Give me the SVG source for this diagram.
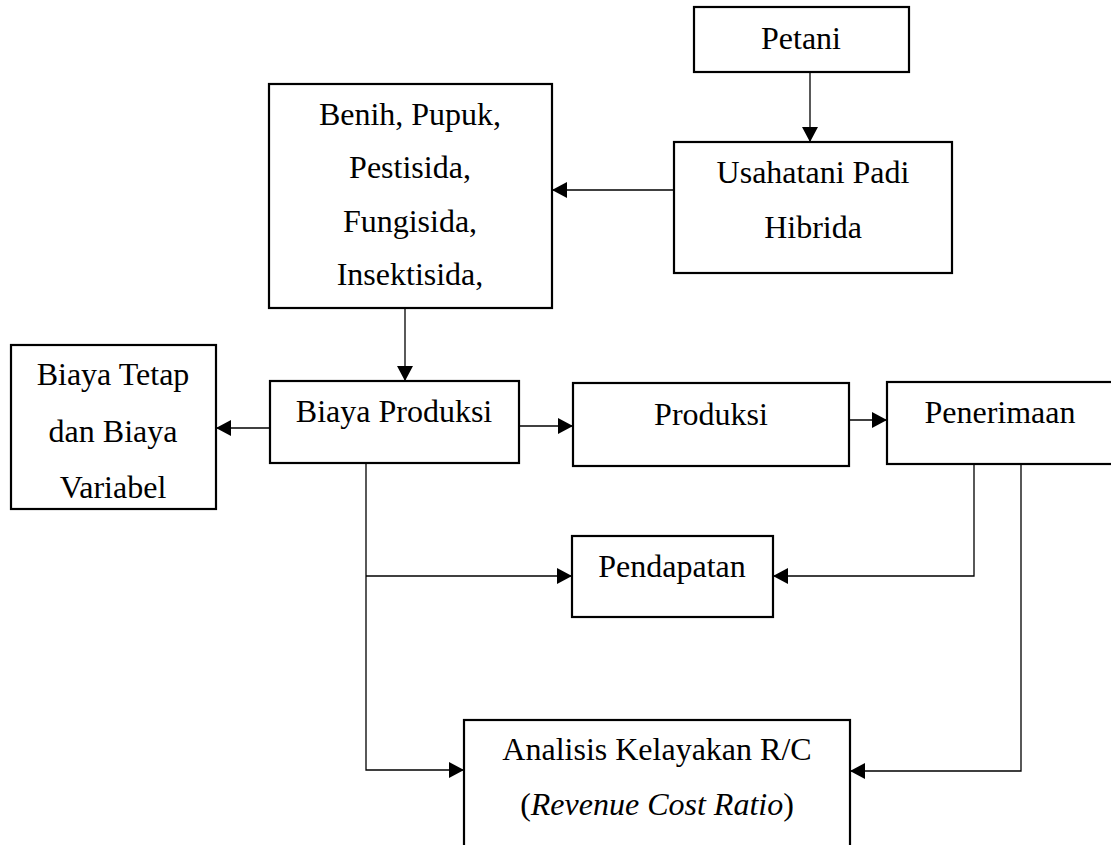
<svg xmlns="http://www.w3.org/2000/svg" width="1111" height="845" viewBox="0 0 1111 845">
<style>
.box{fill:#fff;stroke:#000;stroke-width:2.2}
.t{font-family:"Liberation Serif","Times New Roman",serif;font-size:32px;fill:#000;text-anchor:middle}
.c{fill:none;stroke:#000;stroke-width:1.3}
</style>
<defs>
<marker id="ah" markerUnits="userSpaceOnUse" markerWidth="16" markerHeight="16" refX="15" refY="8" orient="auto">
<path d="M0,0 L15,8 L0,16 Z" fill="#000"/>
</marker>
</defs>
<rect width="1111" height="845" fill="#fff"/>
<g id="connectors">
<path class="c" d="M810,72 L810,142" marker-end="url(#ah)"/>
<path class="c" d="M674,190 L552,190" marker-end="url(#ah)"/>
<path class="c" d="M405,309 L405,381" marker-end="url(#ah)"/>
<path class="c" d="M270,428 L216,428" marker-end="url(#ah)"/>
<path class="c" d="M519,426 L573,426" marker-end="url(#ah)"/>
<path class="c" d="M849,420 L887,420" marker-end="url(#ah)"/>
<path class="c" d="M974,464 L974,576 L773,576" marker-end="url(#ah)"/>
<path class="c" d="M1021,464 L1021,771 L850,771" marker-end="url(#ah)"/>
<path class="c" d="M366,463 L366,770 L464,770" marker-end="url(#ah)"/>
<path class="c" d="M366,576 L572,576" marker-end="url(#ah)"/>
</g>
<g id="petani">
<rect class="box" x="694" y="7" width="215" height="65"/>
<text class="t" x="801" y="49">Petani</text>
</g>
<g id="usahatani">
<rect class="box" x="674" y="142" width="278" height="131"/>
<text class="t" x="813" y="183">Usahatani Padi</text>
<text class="t" x="813" y="238">Hibrida</text>
</g>
<g id="input">
<rect class="box" x="269" y="84" width="283" height="224"/>
<text class="t" x="410" y="125">Benih, Pupuk,</text>
<text class="t" x="410" y="178">Pestisida,</text>
<text class="t" x="410" y="232">Fungisida,</text>
<text class="t" x="410" y="285">Insektisida,</text>
</g>
<g id="biaya-tetap">
<rect class="box" x="11" y="345" width="205" height="164"/>
<text class="t" x="113" y="385">Biaya Tetap</text>
<text class="t" x="113" y="442">dan Biaya</text>
<text class="t" x="113" y="498">Variabel</text>
</g>
<g id="biaya-produksi">
<rect class="box" x="270" y="381" width="249" height="82"/>
<text class="t" x="394" y="422">Biaya Produksi</text>
</g>
<g id="produksi">
<rect class="box" x="573" y="383" width="276" height="83"/>
<text class="t" x="711" y="425">Produksi</text>
</g>
<g id="penerimaan">
<rect class="box" x="887" y="382" width="230" height="82"/>
<text class="t" x="1000" y="423">Penerimaan</text>
</g>
<g id="pendapatan">
<rect class="box" x="572" y="536" width="201" height="81"/>
<text class="t" x="672" y="577">Pendapatan</text>
</g>
<g id="analisis">
<rect class="box" x="464" y="720" width="386" height="140"/>
<text class="t" x="657" y="760">Analisis Kelayakan R/C</text>
<text class="t" x="657" y="815">(<tspan font-style="italic">Revenue Cost Ratio</tspan>)</text>
</g>
</svg>
